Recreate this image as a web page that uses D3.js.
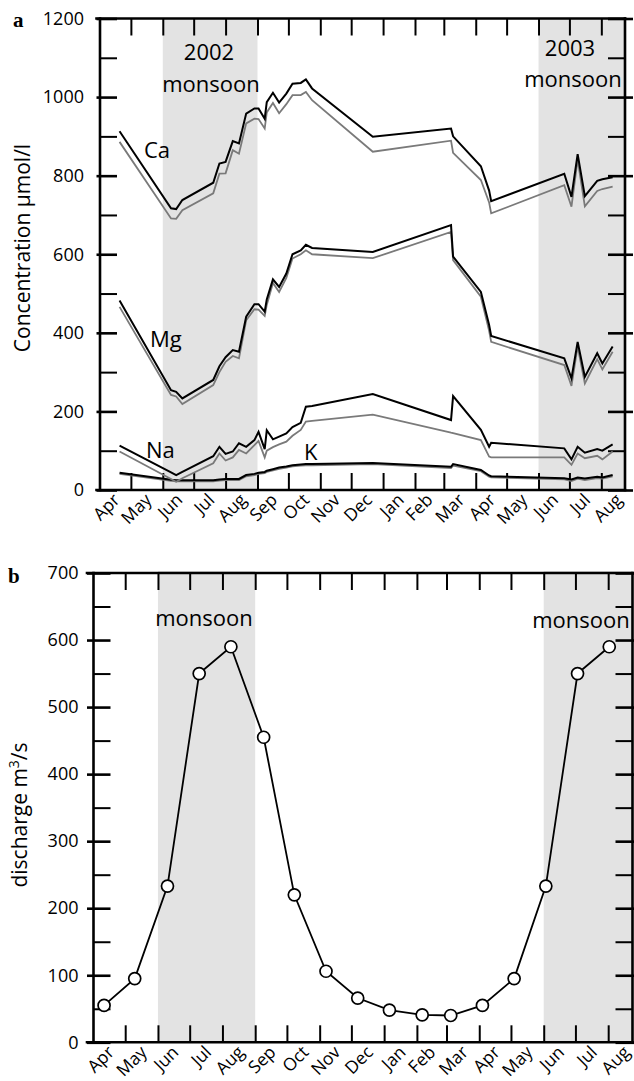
<!DOCTYPE html>
<html>
<head>
<meta charset="utf-8">
<script src="https://cdn.jsdelivr.net/npm/d3@7"></script>
<style>
  body { margin: 0; background: #fff; }
  svg text { font-family: "Open Sans", sans-serif; fill: #000; }
</style>
</head>
<body>
<div id="chart"></div>
<script>
const parse = d3.timeParse('%Y-%m-%d');

// sampling dates of the river water chemistry (panel a)
const sampleDates = [
    '2002-04-20', '2002-06-09', '2002-06-14', '2002-06-20', '2002-07-20', '2002-07-26',
    '2002-08-01', '2002-08-08', '2002-08-14', '2002-08-21', '2002-08-29', '2002-09-02',
    '2002-09-08', '2002-09-10', '2002-09-16', '2002-09-22', '2002-09-29', '2002-10-05',
    '2002-10-13', '2002-10-18', '2002-10-24', '2002-12-22', '2003-03-08', '2003-03-10',
    '2003-04-06', '2003-04-14', '2003-04-16', '2003-06-26', '2003-07-03', '2003-07-09',
    '2003-07-16', '2003-07-28', '2003-08-02', '2003-08-12'
];
// black = measured, grey = corrected (µmol/l)
const caBlack = [913, 717, 715, 738, 782, 831, 835, 888, 882, 958, 971, 971, 945, 987, 1011, 986, 1009, 1034,
    1036, 1045, 1022, 899, 920, 900, 824, 762, 735, 805, 746, 855, 748, 787, 791, 796];
const caGrey = [886, 691, 690, 712, 755, 805, 806, 865, 856, 933, 945, 944, 920, 961, 985, 959, 982, 1005,
    1005, 1013, 992, 861, 889, 858, 789, 732, 704, 776, 721, 841, 722, 761, 766, 772];
const mgBlack = [482, 254, 250, 233, 280, 315, 338, 356, 352, 441, 473, 473, 454, 485, 536, 517, 551, 600,
    610, 624, 616, 606, 674, 594, 504, 420, 392, 335, 284, 377, 288, 348, 322, 365];
const mgGrey = [466, 242, 238, 219, 267, 300, 326, 341, 335, 432, 460, 459, 443, 471, 527, 504, 540, 589,
    600, 610, 600, 590, 657, 585, 492, 405, 377, 318, 265, 365, 271, 333, 307, 352];
const naBlack = [113, 45, 38, 46, 86, 110, 92, 98, 119, 110, 127, 148, 104, 152, 129, 136, 144, 160,
    171, 212, 214, 244, 178, 239, 153, 110, 120, 106, 78, 110, 95, 104, 100, 116];
const naGrey = [98, 28, 21, 30, 68, 93, 75, 83, 102, 93, 114, 125, 83, 100, 109, 116, 123, 138,
    153, 174, 176, 192, 146, 145, 127, 85, 83, 83, 64, 93, 81, 87, 78, 98];
const kBlack = [44, 26, 25, 25, 25, 27, 28, 28, 28, 38, 41, 44, 46, 49, 53, 57, 60, 63,
    65, 66, 66, 69, 59, 66, 51, 37, 35, 30, 27, 32, 29, 34, 32, 38];
const kGrey = [41, 23, 22, 22, 22, 24, 25, 25, 25, 35, 38, 41, 43, 46, 50, 54, 57, 60,
    62, 63, 63, 66, 56, 62, 48, 34, 32, 27, 23, 29, 25, 30, 29, 35];

// monthly mean discharge (panel b)
const dischargeDates = [
    '2002-04-11', '2002-05-10', '2002-06-10', '2002-07-10', '2002-08-09', '2002-09-09',
    '2002-10-08', '2002-11-07', '2002-12-07', '2003-01-06', '2003-02-06', '2003-03-05',
    '2003-04-04', '2003-05-04', '2003-06-03', '2003-07-03', '2003-08-02'
];
const dischargeValues = [55, 95, 233, 550, 590, 455, 220, 106, 66, 48, 41, 40, 55, 95, 233, 550, 590];

const monthLabels = ['Apr', 'May', 'Jun', 'Jul', 'Aug', 'Sep', 'Oct', 'Nov', 'Dec',
    'Jan', 'Feb', 'Mar', 'Apr', 'May', 'Jun', 'Jul', 'Aug'];
const concTicks = d3.range(0, 1201, 100);
const dischargeTicks = d3.range(0, 701, 50);
const monsoons = [['2002-06-01', '2002-09-01'], ['2003-06-01', '2003-08-24']];

const start = parse('2002-04-01'), end = parse('2003-08-24');
const monthStarts = d3.timeMonth.range(start, parse('2003-08-02'));

const svg = d3.select('#chart').append('svg')
    .attr('width', 634)
    .attr('height', 1081);

function drawPanel(p) {
    const g = svg.append('g');

    // monsoon shading
    g.selectAll('.monsoon')
        .data(monsoons)
        .enter()
        .append('rect')
        .attr('x', d => p.x(parse(d[0])))
        .attr('width', d => Math.min(p.x(parse(d[1])), p.right) - p.x(parse(d[0])))
        .attr('y', p.top - p.shadeOver)
        .attr('height', p.bottom - p.top + p.shadeOver)
        .attr('fill', '#e3e3e3');

    // month ticks along bottom and top (pointing inward)
    const ticks = monthStarts.slice(1);
    g.append('g')
        .attr('transform', `translate(0,${p.bottom})`)
        .call(d3.axisBottom(p.x).tickValues(ticks).tickSize(-17).tickSizeOuter(0).tickFormat(''))
        .call(a => a.select('.domain').remove())
        .selectAll('line').attr('stroke-width', 2);
    g.append('g')
        .attr('transform', `translate(0,${p.top})`)
        .call(d3.axisTop(p.x).tickValues(ticks).tickSize(-17).tickSizeOuter(0).tickFormat(''))
        .call(a => a.select('.domain').remove())
        .selectAll('line').attr('stroke-width', 2);

    // y axis left with labels
    const left = g.append('g')
        .attr('transform', `translate(${p.left},0)`)
        .call(d3.axisLeft(p.y).tickValues(p.yTicks).tickSize(-17).tickSizeOuter(0).tickPadding(p.pad)
            .tickFormat(d => d % p.major ? '' : d));
    left.select('.domain').remove();
    left.selectAll('.tick line')
        .attr('x1', d => d % p.major ? 0 : -p.over)
        .attr('stroke-width', d => d % p.major ? 2 : 2.6);
    left.selectAll('text').style('font-size', '18px');

    // y axis right
    const right = g.append('g')
        .attr('transform', `translate(${p.right},0)`)
        .call(d3.axisRight(p.y).tickValues(p.yTicks).tickSize(-17).tickSizeOuter(0).tickFormat(''));
    right.select('.domain').remove();
    right.selectAll('.tick line')
        .attr('x1', d => d % p.major ? 0 : 8)
        .attr('stroke-width', d => d % p.major ? 2 : 2.6);

    // frame
    const frame = [
        [p.left - p.over, p.top, p.right, p.top],
        [p.left - p.over, p.bottom, p.right, p.bottom],
        [p.left, p.top, p.left, p.bottom],
        [p.right, p.top, p.right, p.bottom]
    ];
    g.selectAll('.frame')
        .data(frame)
        .enter()
        .append('line')
        .attr('x1', d => d[0]).attr('y1', d => d[1])
        .attr('x2', d => d[2]).attr('y2', d => d[3])
        .attr('stroke', '#000')
        .attr('stroke-width', 2.6)
        .attr('stroke-linecap', 'square');

    // month labels, rotated
    g.selectAll('.month')
        .data(monthLabels)
        .enter()
        .append('text')
        .attr('text-anchor', 'end')
        .style('font-size', '17.5px')
        .attr('transform', (d, i) => {
            const mx = p.x(d3.timeMonth.offset(start, i + 1)) - 10;
            const my = p.bottom + 11;
            return `translate(${mx},${my}) rotate(-45)`;
        })
        .text(d => d);

    return g;
}

// ---------- panel a ----------
const xa = d3.scaleTime().domain([start, end]).range([100, 625]);
const ya = d3.scaleLinear().domain([0, 1200]).range([490, 18.5]);
const ga = drawPanel({ x: xa, y: ya, left: 100, right: 625, top: 18.5, bottom: 490,
    yTicks: concTicks, major: 200, over: 3.5, pad: 16, shadeOver: 0 });

const dates = sampleDates.map(parse);
const lineA = d3.line()
    .x((d, i) => xa(dates[i]))
    .y(d => ya(d));

const series = [
    { v: kGrey, c: '#7a7a7a', w: 1.8 }, { v: kBlack, c: '#000', w: 2 },
    { v: naGrey, c: '#7a7a7a', w: 1.8 }, { v: naBlack, c: '#000', w: 2 },
    { v: mgGrey, c: '#7a7a7a', w: 1.8 }, { v: mgBlack, c: '#000', w: 2 },
    { v: caGrey, c: '#7a7a7a', w: 1.8 }, { v: caBlack, c: '#000', w: 2 }
];
ga.selectAll('.conc')
    .data(series)
    .enter()
    .append('path')
    .attr('d', d => lineA(d.v))
    .attr('fill', 'none')
    .attr('stroke', d => d.c)
    .attr('stroke-width', d => d.w);

// element labels
const elementLabels = [
    { t: 'Ca', x: 144, y: 158 },
    { t: 'Mg', x: 150, y: 347 },
    { t: 'Na', x: 146, y: 458 },
    { t: 'K', x: 304, y: 460 }
];
ga.selectAll('.el')
    .data(elementLabels)
    .enter()
    .append('text')
    .attr('x', d => d.x)
    .attr('y', d => d.y)
    .style('font-size', '22px')
    .text(d => d.t);

const monsoonA = [
    { t: '2002', x: 209, y: 60 }, { t: 'monsoon', x: 211, y: 91.5 },
    { t: '2003', x: 570, y: 56 }, { t: 'monsoon', x: 573, y: 87 }
];
ga.selectAll('.ms')
    .data(monsoonA)
    .enter()
    .append('text')
    .attr('x', d => d.x)
    .attr('y', d => d.y)
    .attr('text-anchor', 'middle')
    .style('font-size', '22px')
    .text(d => d.t);

ga.append('text')
    .attr('transform', 'translate(30,248) rotate(-90)')
    .attr('text-anchor', 'middle')
    .style('font-size', '21px')
    .text('Concentration µmol/l');

ga.append('text')
    .attr('x', 13).attr('y', 27)
    .style('font-family', '"Liberation Serif", serif')
    .style('font-weight', 'bold')
    .style('font-size', '21px')
    .text('a');

// ---------- panel b ----------
const xb = d3.scaleTime().domain([start, end]).range([93.5, 632.5]);
const yb = d3.scaleLinear().domain([0, 700]).range([1042.3, 573]);
const gb = drawPanel({ x: xb, y: yb, left: 93.5, right: 632.5, top: 573, bottom: 1042.3,
    yTicks: dischargeTicks, major: 100, over: 6.5, pad: 15, shadeOver: 2 });

const discharge = dischargeDates.map((d, i) => ({ date: parse(d), value: dischargeValues[i] }));

gb.append('path')
    .datum(discharge)
    .attr('d', d3.line().x(d => xb(d.date)).y(d => yb(d.value)))
    .attr('fill', 'none')
    .attr('stroke', '#000')
    .attr('stroke-width', 1.8);

gb.selectAll('.pt')
    .data(discharge)
    .enter()
    .append('circle')
    .attr('cx', d => xb(d.date))
    .attr('cy', d => yb(d.value))
    .attr('r', 6)
    .attr('fill', '#fff')
    .attr('stroke', '#000')
    .attr('stroke-width', 1.7);

gb.selectAll('.msb')
    .data([{ x: 204, y: 626 }, { x: 581, y: 628 }])
    .enter()
    .append('text')
    .attr('x', d => d.x)
    .attr('y', d => d.y)
    .attr('text-anchor', 'middle')
    .style('font-size', '22px')
    .text('monsoon');

const yTitle = gb.append('text')
    .attr('transform', 'translate(27,815) rotate(-90)')
    .attr('text-anchor', 'middle')
    .style('font-size', '21px');
yTitle.append('tspan').text('discharge m');
yTitle.append('tspan').attr('dy', -8).style('font-size', '14px').text('3');
yTitle.append('tspan').attr('dy', 8).text('/s');

gb.append('text')
    .attr('x', 8).attr('y', 583)
    .style('font-family', '"Liberation Serif", serif')
    .style('font-weight', 'bold')
    .style('font-size', '21px')
    .text('b');
</script>
</body>
</html>
